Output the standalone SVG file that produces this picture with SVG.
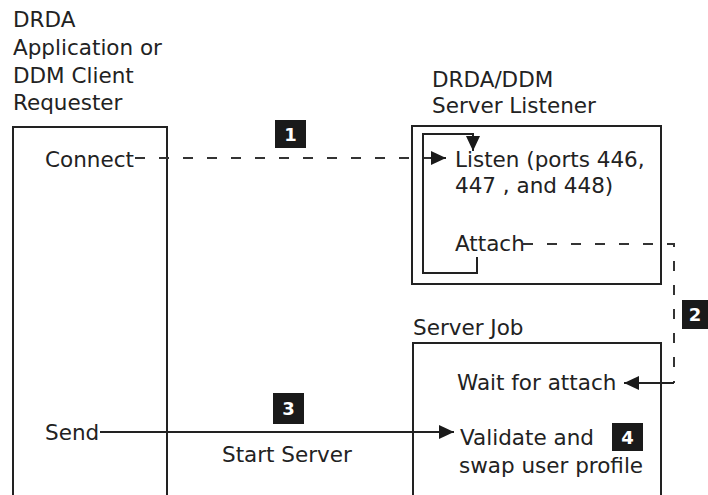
<svg xmlns="http://www.w3.org/2000/svg" width="708" height="495" viewBox="0 0 708 495">
<defs>
<style>
text{font-family:"DejaVu Sans","Liberation Sans",sans-serif;font-size:21.5px;fill:#222}
.box{fill:none;stroke:#222;stroke-width:2}
.ln{fill:none;stroke:#222;stroke-width:2}
.dash{fill:none;stroke:#333;stroke-width:2;stroke-dasharray:10 14}
.tag{fill:#1a1a1a}
.tagt{fill:#fff;font-size:18px;font-weight:bold;text-anchor:middle}
</style>
<marker id="ah" markerWidth="15" markerHeight="14" refX="15" refY="7" orient="auto" markerUnits="userSpaceOnUse">
<path d="M0,0 L15,7 L0,14 Z" fill="#1a1a1a"/>
</marker>
</defs>
<rect width="708" height="495" fill="#fff"/>
<g id="requester">
<text x="13" y="27">DRDA</text>
<text x="13" y="55">Application or</text>
<text x="13" y="83">DDM Client</text>
<text x="13" y="110">Requester</text>
<path class="box" d="M13,495 V127 H167 V495"/>
<text x="45" y="167">Connect</text>
<text x="45" y="440">Send</text>
</g>
<g id="listener">
<text x="432" y="87">DRDA/DDM</text>
<text x="432" y="113">Server Listener</text>
<rect class="box" x="412" y="126" width="249" height="158"/>
<text x="455" y="167">Listen (ports 446,</text>
<text x="455" y="193">447 , and 448)</text>
<text x="455" y="251">Attach</text>
</g>
<g id="serverjob">
<text x="413" y="335">Server Job</text>
<path class="box" d="M413,495 V343 H661 V495"/>
<text x="457" y="390">Wait for attach</text>
<text x="460" y="445">Validate and</text>
<text x="459" y="473">swap user profile</text>
</g>
<g id="connectors">
<path class="dash" d="M135,158 H432"/>
<path class="ln" d="M430,158 H446" marker-end="url(#ah)"/>
<path class="ln" d="M477,257 V273 H423 V134 H473 V151" marker-end="url(#ah)"/>
<path class="dash" d="M523,244 H674 V383"/>
<path class="ln" d="M674,383 H624" marker-end="url(#ah)"/>
<path class="ln" d="M100,432 H454" marker-end="url(#ah)"/>
<text x="222" y="462">Start Server</text>
</g>
<g id="tags">
<rect class="tag" x="275" y="120" width="31" height="28"/>
<text class="tagt" x="290.5" y="141">1</text>
<rect class="tag" x="682" y="300" width="26" height="29"/>
<text class="tagt" x="695" y="321">2</text>
<rect class="tag" x="273" y="393" width="31" height="31"/>
<text class="tagt" x="288.5" y="415">3</text>
<rect class="tag" x="612" y="423" width="31" height="28"/>
<text class="tagt" x="627.5" y="444">4</text>
</g>
</svg>
